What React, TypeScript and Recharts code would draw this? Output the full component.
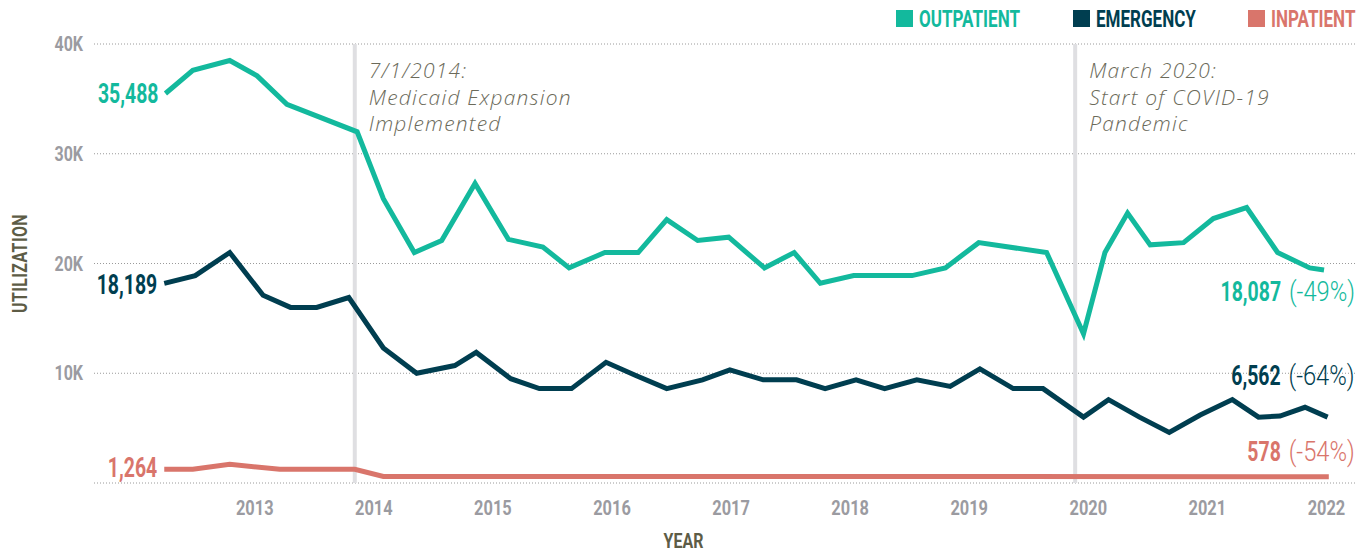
import React from "react";
import { LineChart, Line, XAxis, YAxis, CartesianGrid, ReferenceLine, Legend } from "recharts";

// Datas em ano decimal (posição), valores em atendimentos.
const OUTPATIENT_DATES = [
  2012.25, 2012.48, 2012.79, 2013.02, 2013.27, 2013.86, 2014.08, 2014.34, 2014.57, 2014.85,
  2015.13, 2015.42, 2015.64, 2015.94, 2016.22, 2016.46, 2016.72, 2016.98, 2017.28, 2017.53,
  2017.75, 2018.03, 2018.52, 2018.8, 2019.08, 2019.65, 2019.96, 2020.14, 2020.33, 2020.52,
  2020.8, 2021.05, 2021.33, 2021.59, 2021.86, 2021.98,
];
const OUTPATIENT = [
  35488, 37600, 38500, 37100, 34500, 32000, 25900, 21000, 22100, 27300,
  22200, 21500, 19600, 21000, 21000, 24000, 22100, 22400, 19600, 21000,
  18200, 18900, 18900, 19600, 21900, 21000, 13600, 21000, 24600, 21700,
  21900, 24100, 25100, 21000, 19600, 19400,
];

const EMERGENCY_DATES = [
  2012.24, 2012.5, 2012.79, 2013.07, 2013.3, 2013.52, 2013.79, 2014.08, 2014.36, 2014.68,
  2014.86, 2015.15, 2015.39, 2015.66, 2015.95, 2016.2, 2016.46, 2016.76, 2016.99, 2017.27,
  2017.55, 2017.79, 2018.05, 2018.29, 2018.56, 2018.84, 2019.09, 2019.37, 2019.62, 2019.96,
  2020.17, 2020.43, 2020.68, 2020.94, 2021.21, 2021.43, 2021.61, 2021.82, 2022.01,
];
const EMERGENCY = [
  18189, 18900, 21000, 17100, 16000, 16000, 16900, 12300, 10000, 10700,
  11900, 9500, 8600, 8600, 11000, 9800, 8600, 9400, 10300, 9400,
  9400, 8600, 9400, 8600, 9400, 8800, 10400, 8600, 8600, 6000,
  7600, 6000, 4600, 6200, 7600, 6000, 6100, 6900, 6000,
];

const INPATIENT_DATES = [2012.24, 2012.48, 2012.79, 2013.21, 2013.84, 2014.08, 2022.02];
const INPATIENT = [1264, 1264, 1700, 1250, 1250, 600, 578];

const YEARS = [2013, 2014, 2015, 2016, 2017, 2018, 2019, 2020, 2021, 2022];
const Y_TICKS = [0, 10000, 20000, 30000, 40000];

const SERIES_NAMES = ["OUTPATIENT", "EMERGENCY", "INPATIENT"];
const START_LABELS = ["35,488", "18,189", "1,264"];
const END_LABELS = ["18,087", "6,562", "578"];
const END_CHANGES = ["(-49%)", "(-64%)", "(-54%)"];

const EVENT_DATES = [2013.84, 2019.89];
const EVENT_TEXTS = [
  ["7/1/2014:", "Medicaid Expansion", "Implemented"],
  ["March 2020:", "Start of COVID-19", "Pandemic"],
];

const COLORS = ["#13b99d", "#003e50", "#d9756b"];
// deslocamento dos rótulos de início/fim em relação ao primeiro/último ponto
const START_DY = [0, 1, -2];
const END_OFFSET = [
  { dx: 31, dy: 21 },
  { dx: 27, dy: -42 },
  { dx: 26, dy: -25 },
];
const LEGEND_X = [896, 1073, 1248];

// sem fonte condensada instalada: comprime a Roboto na horizontal
const COND = "Roboto, 'DejaVu Sans', sans-serif";
const GREY = "#9b9ba1";
const OLIVE = "#5d5c46";

const rows = (dates: number[], values: number[]) => dates.map((t, i) => ({ t, v: values[i] }));
const SERIES_DATA = [
  rows(OUTPATIENT_DATES, OUTPATIENT),
  rows(EMERGENCY_DATES, EMERGENCY),
  rows(INPATIENT_DATES, INPATIENT),
];

function CondText({ x, y, k, anchor = "start", rotate = 0, children, ...rest }: any) {
  return (
    <text
      transform={`translate(${x} ${y}) rotate(${rotate}) scale(${k} 1)`}
      textAnchor={anchor}
      {...rest}
    >
      {children}
    </text>
  );
}

function endLabel(s: number, last: number) {
  return (p: any) => {
    const { x, y, index } = p;
    if (index === 0) {
      return (
        <CondText key={`s${s}`} x={x - 7} y={y + START_DY[s]} k={0.72} dy="0.36em" anchor="end" fill={COLORS[s]}
          style={{ fontFamily: COND, fontWeight: 700, fontSize: 27 }}>
          {START_LABELS[s]}
        </CondText>
      );
    }
    if (index === last) {
      const o = END_OFFSET[s];
      return (
        <g key={`e${s}`}>
          <CondText x={x + o.dx - 74} y={y + o.dy} k={0.72} dy="0.36em" anchor="end" fill={COLORS[s]}
            style={{ fontFamily: COND, fontWeight: 700, fontSize: 27 }}>
            {END_LABELS[s]}
          </CondText>
          <CondText x={x + o.dx} y={y + o.dy} k={0.88} dy="0.36em" anchor="end" fill={COLORS[s]}
            style={{ fontFamily: COND, fontWeight: 300, fontSize: 27 }}>
            {END_CHANGES[s]}
          </CondText>
        </g>
      );
    }
    return <g key={`n${s}-${index}`} />;
  };
}

function eventLabel(lines: string[]) {
  return (p: any) => {
    const vb = p.viewBox || {};
    return (
      <g>
        {lines.map((l, i) => (
          <text key={i} x={vb.x + 14} y={78 + i * 26.5} fill="#6b6a5a"
            style={{ fontFamily: "'Open Sans', Lato, sans-serif", fontStyle: "italic", fontWeight: 300, fontSize: 21, letterSpacing: 1.2 }}>
            {l}
          </text>
        ))}
      </g>
    );
  };
}

function LegendBox() {
  return (
    <svg width={1369} height={36}>
      {SERIES_NAMES.map((n, i) => (
        <g key={n}>
          <rect x={LEGEND_X[i]} y={10} width={17} height={17} fill={COLORS[i]} />
          <CondText x={LEGEND_X[i] + 23} y={27} k={0.71} fill={COLORS[i]}
            style={{ fontFamily: COND, fontWeight: 700, fontSize: 24 }}>
            {n}
          </CondText>
        </g>
      ))}
    </svg>
  );
}

const YTick = (p: any) => (
  <CondText x={p.x} y={p.y} k={0.8} dy="0.36em" anchor="end" fill={GREY}
    style={{ fontFamily: COND, fontWeight: 700, fontSize: 20 }}>
    {p.payload.value === 0 ? "" : `${p.payload.value / 1000}K`}
  </CondText>
);

const XTick = (p: any) => (
  <CondText x={p.x} y={p.y} k={0.82} dy="0.71em" anchor="middle" fill={GREY}
    style={{ fontFamily: COND, fontWeight: 700, fontSize: 20 }}>
    {p.payload.value}
  </CondText>
);

export default function App() {
  return (
    <div style={{ width: 1369, height: 554, background: "#fff" }}>
      <style>{`body{margin:0}`}</style>
      <LineChart width={1369} height={554} margin={{ top: 44, right: 14, bottom: 41, left: 14 }}>
        <CartesianGrid vertical={false} stroke="#9a9a9a" strokeDasharray="1 2" />
        <XAxis
          dataKey="t"
          type="number"
          domain={[2011.65, 2022.24]}
          ticks={YEARS}
          height={30}
          axisLine={false}
          tickLine={false}
          tickMargin={12}
          tick={<XTick />}
          allowDataOverflow
          label={{
            content: (p: any) => {
              const vb = p.viewBox;
              return (
                <CondText x={vb.x + vb.width / 2 - 41} y={548} k={0.76} anchor="middle" fill={OLIVE}
                  style={{ fontFamily: COND, fontWeight: 700, fontSize: 21 }}>
                  YEAR
                </CondText>
              );
            },
          }}
        />
        <YAxis
          type="number"
          domain={[0, 40000]}
          ticks={Y_TICKS}
          width={80}
          axisLine={false}
          tickLine={false}
          tickSize={6}
          tickMargin={5}
          tick={<YTick />}
          label={{
            content: (p: any) => {
              const vb = p.viewBox;
              const cy = vb.y + vb.height / 2;
              return (
                <CondText x={27} y={cy} rotate={-90} k={0.76} anchor="middle" fill={OLIVE}
                  style={{ fontFamily: COND, fontWeight: 700, fontSize: 21, letterSpacing: 0.5 }}>
                  UTILIZATION
                </CondText>
              );
            },
          }}
        />
        {EVENT_DATES.map((d, i) => (
          <ReferenceLine key={d} x={d} stroke="#dfdfe2" strokeWidth={4} label={eventLabel(EVENT_TEXTS[i])} />
        ))}
        <Legend
          layout="horizontal"
          verticalAlign="middle"
          align="center"
          content={<LegendBox />}
          wrapperStyle={{ top: 0, left: 0, width: 1369, height: 36 }}
        />
        {SERIES_DATA.map((data, s) => (
          <Line
            key={SERIES_NAMES[s]}
            data={data}
            dataKey="v"
            name={SERIES_NAMES[s]}
            stroke={COLORS[s]}
            strokeWidth={5}
            strokeLinejoin="miter"
            dot={false}
            activeDot={false}
            isAnimationActive={false}
            label={endLabel(s, data.length - 1)}
          />
        ))}
      </LineChart>
    </div>
  );
}
